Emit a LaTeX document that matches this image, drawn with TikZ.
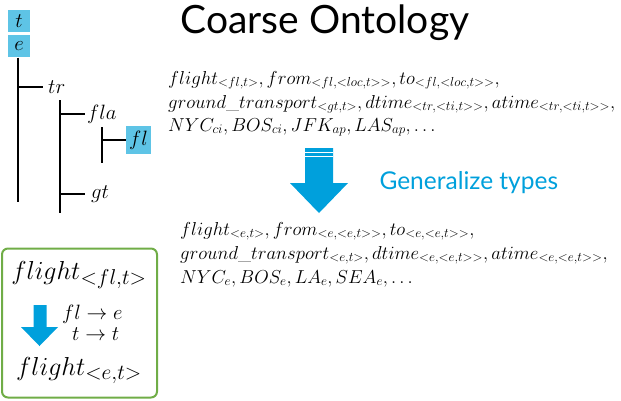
\RequirePackage{fix-cm}
\documentclass[tikz,border=0pt]{standalone}
\usepackage{fontspec}
\setsansfont{Lato}
\usepackage{amsmath}
\usetikzlibrary{positioning,calc}
\definecolor{typeblue}{RGB}{94,196,230}
\definecolor{arrowblue}{RGB}{0,160,220}
\definecolor{boxgreen}{RGB}{112,173,71}
\newcommand{\fsize}[1]{\fontsize{#1}{#1}\selectfont}
\DeclareMathSizes{18.75}{18.75}{13.1}{9.4}
\DeclareMathSizes{26}{26}{21.5}{16}

\begin{document}
\begin{tikzpicture}[
    x=1pt, y=-1pt,
    typebox/.style={fill=typeblue, minimum width=22pt, minimum height=22pt, inner sep=1pt, font=\fsize{20.74}},
    typelbl/.style={inner sep=1pt, font=\fsize{20.74}},
    tline/.style={line width=2.4pt},
    formula/.style={anchor=base west, inner sep=0pt, font=\fsize{18.75}},
    bigarrow/.style={fill=arrowblue, draw=none},
    stripe/.style={white, line width=1.2pt},
]
    \useasboundingbox (0,0) rectangle (621,400);

    % Title
    \node[font=\sffamily\fsize{39}, anchor=base] (title) at (325,33) {Coarse Ontology};

    % Type hierarchy
    \node[typebox] (t) at (19,21) {$t$};
    \node[typebox, below=3pt of t] (e) {$e$};
    \node[typelbl, anchor=west] (tr)  at (47,87)  {$tr$};
    \node[typelbl, anchor=west] (fla) at (86,114) {$fla$};
    \node[typebox, minimum width=25pt, minimum height=28pt] (fl) at (138.5,140) {$fl$};
    \node[typelbl, anchor=west] (gt)  at (90,194) {$gt$};

    \coordinate (trunk) at ($(e.south)+(-1,144)$);
    \coordinate (trbar) at (60,100);
    \coordinate (flabar) at (102,127);
    \draw[tline] ($(e.south)+(-1,0)$) -- (trunk);
    \draw[tline] (trbar) -- ++(0,113);
    \draw[tline] (flabar) -- ++(0,36);
    \draw[tline] (trunk |- tr.west) -- ++(25,0);
    \draw[tline] (trbar |- fla.west) -- ++(25,0);
    \draw[tline] (trbar |- gt.west) -- ++(25,0);
    \draw[tline] (flabar |- fl.west) -- (fl.west);

    % Source types
    \node[formula] (src1) at (168,84)  {$flight_{<fl,t>}, from_{<fl,<loc,t>>}, to_{<fl,<loc,t>>},$};
    \node[formula] (src2) at (168,108) {$ground\_transport_{<gt,t>}, dtime_{<tr,<ti,t>>}, atime_{<tr,<ti,t>>},$};
    \node[formula] (src3) at (168,131) {$NYC_{ci}, BOS_{ci}, JFK_{ap}, LAS_{ap}, \ldots$};

    % Generalization arrow
    \fill[bigarrow] (305,148) -- (333,148) -- (333,183) -- (348,183) -- (319,213)
        -- (290,183) -- (305,183) -- cycle;
    \draw[stripe] (305,152.8) -- (333,152.8);
    \draw[stripe] (305,156.3) -- (333,156.3);
    \node[font=\sffamily\fsize{24.5}, text=arrowblue, anchor=west] (gen) at (376,183) {Generalize types};

    % Target types
    \node[formula] (tgt1) at (180,235) {$flight_{<e,t>}, from_{<e,<e,t>>}, to_{<e,<e,t>>},$};
    \node[formula] (tgt2) at (180,259) {$ground\_transport_{<e,t>}, dtime_{<e,<e,t>>}, atime_{<e,<e,t>>},$};
    \node[formula] (tgt3) at (180,283) {$NYC_e, BOS_e, LA_e, SEA_e, \ldots$};

    % Example box
    \node[draw=boxgreen, line width=2pt, rounded corners=6pt,
          minimum width=155pt, minimum height=149pt] (rulebox) at (79.5,323) {};
    \node[font=\fsize{26}, anchor=base] (before) at (79,279) {$flight_{<fl,t>}$};
    \node[font=\fsize{26}, anchor=base] (after)  at (79,375) {$flight_{<e,t>}$};
    \fill[bigarrow] (33.5,305) -- (46.5,305) -- (46.5,327) -- (58,327) -- (39.5,346)
        -- (21,327) -- (33.5,327) -- cycle;
    \node[font=\fsize{20.74}, anchor=base west, inner sep=0pt] (map1) at (62,319) {$fl \to e$};
    \node[font=\fsize{20.74}, anchor=base west, inner sep=0pt] (map2) at (72,340) {$t \to t$};
\end{tikzpicture}
\end{document}
